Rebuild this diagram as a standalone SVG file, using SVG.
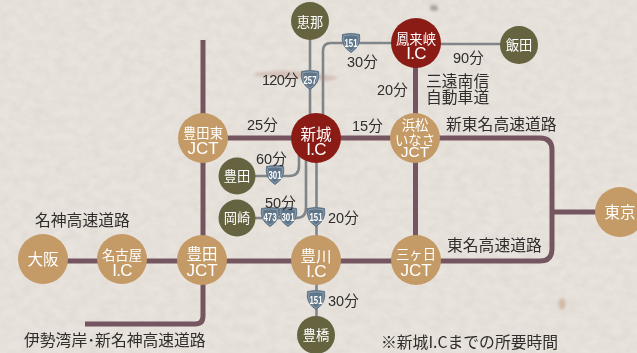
<svg xmlns="http://www.w3.org/2000/svg" width="637" height="353" viewBox="0 0 637 353">
<style>
text{font-family:"Liberation Sans","Noto Sans CJK JP",sans-serif;}
.l{font-size:14.500px;fill:#2f2c2b;}
.c{font-family:"Noto Sans CJK JP",sans-serif;font-size:15.800px;fill:#2f2c2b;}
.s{font-family:"Noto Sans CJK JP",sans-serif;font-size:13.300px;fill:#fff;text-anchor:middle;}
.b{font-family:"Noto Sans CJK JP",sans-serif;font-size:15.500px;fill:#fff;text-anchor:middle;}
.j{font-size:17px;fill:#fff;text-anchor:middle;}
.i{font-size:17px;letter-spacing:-.8px;fill:#fff;text-anchor:middle;}
.hw{fill:none;stroke:#745560;stroke-width:5;}
.rd{fill:none;stroke:#7f8589;stroke-width:2.600;}
.t{fill:#c49a66;}.r{fill:#8b1c15;}.o{fill:#666340;}
.sh{fill:#5e7488;stroke:#5e7488;stroke-width:1;}
.si{fill:none;stroke:#dfe5ea;stroke-width:.6;opacity:.6;}
.st{font-size:11.500px;font-weight:bold;fill:#fff;text-anchor:middle;}
</style>
<defs>
<filter id="p" x="0" y="0" width="100%" height="100%"><feTurbulence type="fractalNoise" baseFrequency="0.09 0.12" numOctaves="4" seed="7"/><feColorMatrix values="0 0 0 0 .5 0 0 0 0 .46 0 0 0 0 .41 .3 0 0 0 -.09"/></filter>
<filter id="b"><feGaussianBlur stdDeviation="1.500"/></filter>
<g id="shield"><path class="sh" d="M-8.500,-8.500 Q0,-10.500 8.500,-8.500 Q10.500,3 0,9.500 Q-10.500,3 -8.500,-8.500Z"/><path class="si" d="M-7.200,-7.300 Q0,-9 7.200,-7.300 Q8.800,2.500 0,8 Q-8.800,2.500 -7.200,-7.300Z"/></g>
</defs>
<rect id="paper" width="637" height="353" fill="#e8e3dc"/>
<rect width="637" height="353" filter="url(#p)"/>
<g id="stains" filter="url(#b)"><path d="M255,73Q290,68 325,75Q350,78 326,81Q290,76 255,76Z" fill="#b98d7f" opacity=".4"/><ellipse cx="434" cy="8" rx="4" ry="3" fill="#9a9288" opacity=".8"/><ellipse cx="562" cy="304" rx="3.500" ry="6" fill="#c4a98f" opacity=".7"/></g>
<g id="connectors">
<path class="rd" d="M310,21V138"/>
<path class="rd" d="M416,43H331Q323,43 323,51V138"/>
<path class="rd" d="M416,44H519"/>
<path class="rd" d="M237,176H289Q299,176 299,166V140"/>
<path class="rd" d="M237,218H296Q306,218 306,208V140"/>
<path class="rd" d="M316.500,138V335"/>
<path class="hw" d="M203,40V316Q203,324 195,324H85"/>
<path class="hw" d="M203,138H540Q552,138 552,150V249Q552,261 540,261H43"/>
<path class="hw" d="M415.500,43V260"/>
<path class="hw" d="M552,212H620"/>
</g>
<g id="shields">
<g transform="translate(310,80)"><use href="#shield"/><text class="st" y="3.500" transform="scale(.68,1)">257</text></g>
<g transform="translate(351,43)"><use href="#shield"/><text class="st" y="3.500" transform="scale(.68,1)">151</text></g>
<g transform="translate(275,175)"><use href="#shield"/><text class="st" y="3.500" transform="scale(.68,1)">301</text></g>
<g transform="translate(270,217)"><use href="#shield"/><text class="st" y="3.500" transform="scale(.68,1)">473</text></g>
<g transform="translate(288,217)"><use href="#shield"/><text class="st" y="3.500" transform="scale(.68,1)">301</text></g>
<g transform="translate(316,217)"><use href="#shield"/><text class="st" y="3.500" transform="scale(.68,1)">151</text></g>
<g transform="translate(316,300)"><use href="#shield"/><text class="st" y="3.500" transform="scale(.68,1)">151</text></g>
</g>
<g id="n-ena"><circle class="o" cx="310" cy="21" r="19"/><text class="s" x="310" y="27">恵那</text></g>
<g id="n-horai"><circle class="r" cx="416" cy="43" r="25"/><text class="s" x="416" y="44">鳳来峡</text><text class="i" x="416" y="59">I.C</text></g>
<g id="n-iida"><circle class="o" cx="519" cy="45" r="19"/><text class="s" x="519" y="50">飯田</text></g>
<g id="n-toyotahigashi"><circle class="t" cx="203" cy="138" r="25"/><text class="s" x="203" y="138">豊田東</text><text class="j" x="203" y="154">JCT</text></g>
<g id="n-shinshiro"><circle class="r" cx="316" cy="138" r="25"/><text class="b" x="316" y="140">新城</text><text class="i" x="316" y="155">I.C</text></g>
<g id="n-hamamatsu"><circle class="t" cx="415" cy="138" r="25"/><text class="s" x="415" y="130">浜松</text><text class="s" x="415" y="144.500">いなさ</text><text class="j" x="415" y="157" style="font-size:15.500px">JCT</text></g>
<g id="n-toyota"><circle class="o" cx="237" cy="176" r="18.500"/><text class="s" x="237" y="181">豊田</text></g>
<g id="n-okazaki"><circle class="o" cx="237" cy="218" r="18.500"/><text class="s" x="237" y="223">岡崎</text></g>
<g id="n-osaka"><circle class="t" cx="43" cy="259" r="25"/><text class="b" x="43" y="265">大阪</text></g>
<g id="n-nagoya"><circle class="t" cx="122" cy="259" r="25"/><text class="s" x="122" y="260">名古屋</text><text class="i" x="122" y="276">I.C</text></g>
<g id="n-toyotajct"><circle class="t" cx="202" cy="260" r="25"/><text class="b" x="202" y="260">豊田</text><text class="j" x="202" y="276">JCT</text></g>
<g id="n-toyokawa"><circle class="t" cx="316" cy="260" r="25"/><text class="b" x="316" y="262">豊川</text><text class="i" x="316" y="277">I.C</text></g>
<g id="n-mikkabi"><circle class="t" cx="416" cy="260" r="25"/><text class="s" x="416" y="259">三ヶ日</text><text class="j" x="416" y="276">JCT</text></g>
<g id="n-tokyo"><circle class="t" cx="620" cy="212" r="25"/><text class="b" x="620" y="218">東京</text></g>
<g id="n-toyohashi"><circle class="o" cx="316" cy="335" r="19"/><text class="s" x="316" y="340">豊橋</text></g>
<g id="labels">
<text class="l" x="262" y="85" letter-spacing="-.7">120分</text>
<text class="l" x="347" y="67">30分</text>
<text class="l" x="453" y="63">90分</text>
<text class="l" x="377" y="95">20分</text>
<text class="c" x="426" y="87">三遠南信</text>
<text class="c" x="426" y="103">自動車道</text>
<text class="l" x="247" y="130">25分</text>
<text class="l" x="352" y="131">15分</text>
<text class="c" x="446" y="130">新東名高速道路</text>
<text class="l" x="256" y="164">60分</text>
<text class="l" x="265" y="208">50分</text>
<text class="l" x="328" y="223">20分</text>
<text class="l" x="328" y="306">30分</text>
<text class="c" x="35" y="226">名神高速道路</text>
<text class="c" x="447" y="251">東名高速道路</text>
<text class="c" x="24" y="346">伊勢湾岸･新名神高速道路</text>
<text class="c" x="381" y="348">※新城I.Cまでの所要時間</text>
</g>
</svg>
